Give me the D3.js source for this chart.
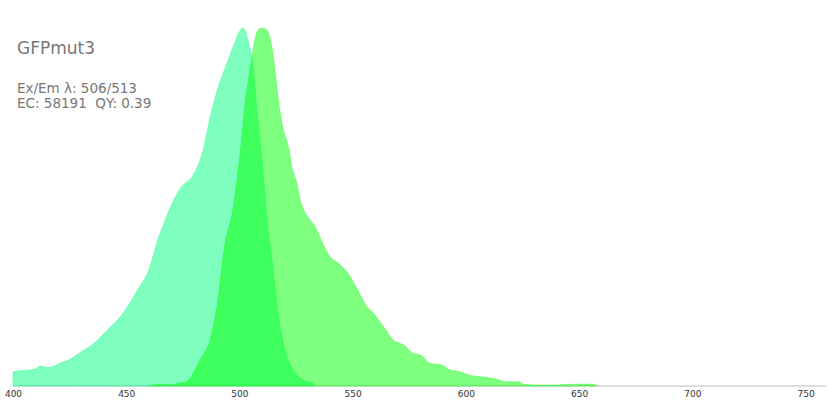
<!DOCTYPE html>
<html>
<head>
<meta charset="utf-8">
<script src="https://cdn.jsdelivr.net/npm/d3@7"></script>
<style>
    body { margin: 0; background: #fff; }
    svg { display: block; font-family: "DejaVu Sans", sans-serif; }
</style>
</head>
<body>
<div id="chart"></div>
<script>
// Spectrum data (normalised)
const exWavelengths = [400, 405, 410, 412, 415, 418, 421, 425, 430, 435, 440, 443, 447, 450.4, 455, 460, 464, 467, 471, 474, 479.5, 482.6, 484, 486, 489, 492, 495, 498, 500, 501.5, 503, 504, 505.4, 508.2, 510.4, 512.1, 514.8, 516, 518, 521, 523.7, 528, 532.5, 533];
const exValues      = [0.04, 0.043, 0.048, 0.056, 0.052, 0.055, 0.064, 0.074, 0.095, 0.115, 0.145, 0.165, 0.19, 0.22, 0.268, 0.325, 0.41, 0.46, 0.52, 0.553, 0.589, 0.631, 0.66, 0.72, 0.80, 0.86, 0.91, 0.96, 0.99, 1.0, 0.985, 0.96, 0.92, 0.743, 0.603, 0.472, 0.332, 0.26, 0.165, 0.081, 0.045, 0.017, 0.008, 0];

const emWavelengths = [460, 462, 466, 470, 473, 476.7, 480, 482.6, 487, 490.5, 493.2, 497.3, 500.3, 502.5, 504.7, 506, 508.2, 510, 512.1, 514.3, 515.7, 517, 519.4, 521.6, 523.1, 525.3, 526.8, 529, 531.2, 533.4, 536.4, 540, 543.7, 547.4, 551.8, 556.2, 559.1, 563.6, 568, 572.4, 576.8, 579.8, 584.2, 589.3, 593, 597.4, 601.1, 606.3, 612.1, 618.1, 623.2, 625.4, 634.3, 640, 649, 656.3, 658];
const emValues      = [0, 0.003, 0.004, 0.003, 0.008, 0.012, 0.04, 0.073, 0.128, 0.24, 0.38, 0.50, 0.651, 0.79, 0.883, 0.939, 0.994, 1.0, 0.994, 0.948, 0.883, 0.808, 0.715, 0.668, 0.613, 0.567, 0.52, 0.483, 0.464, 0.445, 0.403, 0.361, 0.343, 0.319, 0.273, 0.222, 0.203, 0.166, 0.128, 0.115, 0.091, 0.087, 0.063, 0.059, 0.045, 0.04, 0.031, 0.026, 0.021, 0.012, 0.012, 0.005, 0.002, 0.003, 0.005, 0.005, 0];

const xTicks = [400, 450, 500, 550, 600, 650, 700, 750];

const titleText = 'GFPmut3';
const infoLines = ['Ex/Em λ: 506/513', 'EC: 58191  QY: 0.39'];

const width = 840, height = 420;

const svg = d3.select('#chart').append('svg')
    .attr('width', width).attr('height', height);

const x = d3.scaleLinear().domain([400, 759]).range([13, 826]);
const y = d3.scaleLinear().domain([0, 1]).range([386, 28]);

// Baseline
svg.append('line')
    .attr('x1', x(400)).attr('x2', x(759))
    .attr('y1', y(0)).attr('y2', y(0))
    .attr('stroke', '#ddd').attr('stroke-width', 2);

const area = d3.area()
    .x(d => x(d[0]))
    .y0(y(0))
    .y1(d => y(d[1]))
    .curve(d3.curveMonotoneX);

const exData = exWavelengths.map((w, i) => [w, exValues[i]]);
const emData = emWavelengths.map((w, i) => [w, emValues[i]]);

svg.append('path')
    .datum(exData)
    .attr('d', area)
    .attr('fill', '#00ff80').attr('fill-opacity', 0.5)
    .attr('stroke', '#00ff80').attr('stroke-opacity', 0.35).attr('stroke-width', 1);

svg.append('path')
    .datum(emData)
    .attr('d', area)
    .attr('fill', '#00ff00').attr('fill-opacity', 0.5)
    .attr('stroke', '#00ff00').attr('stroke-opacity', 0.35).attr('stroke-width', 1);

// X axis, labels only
const xAxis = svg.append('g')
    .attr('transform', `translate(0,${y(0)})`)
    .call(d3.axisBottom(x).tickValues(xTicks).tickSize(0).tickPadding(5));
xAxis.select('.domain').remove();
xAxis.selectAll('text')
    .attr('font-family', '"DejaVu Sans", sans-serif')
    .attr('font-size', '9px')
    .attr('fill', '#333');

// Title and info
svg.append('text')
    .attr('x', 17).attr('y', 54)
    .attr('font-size', '17px').attr('fill', '#777')
    .text(titleText);

svg.selectAll('.info')
    .data(infoLines).enter()
    .append('text')
    .attr('class', 'info')
    .attr('x', 17).attr('y', (d, i) => 93 + i * 15)
    .attr('font-size', '13.5px').attr('fill', '#777')
    .attr('xml:space', 'preserve')
    .style('white-space', 'pre')
    .text(d => d);
</script>
</body>
</html>
